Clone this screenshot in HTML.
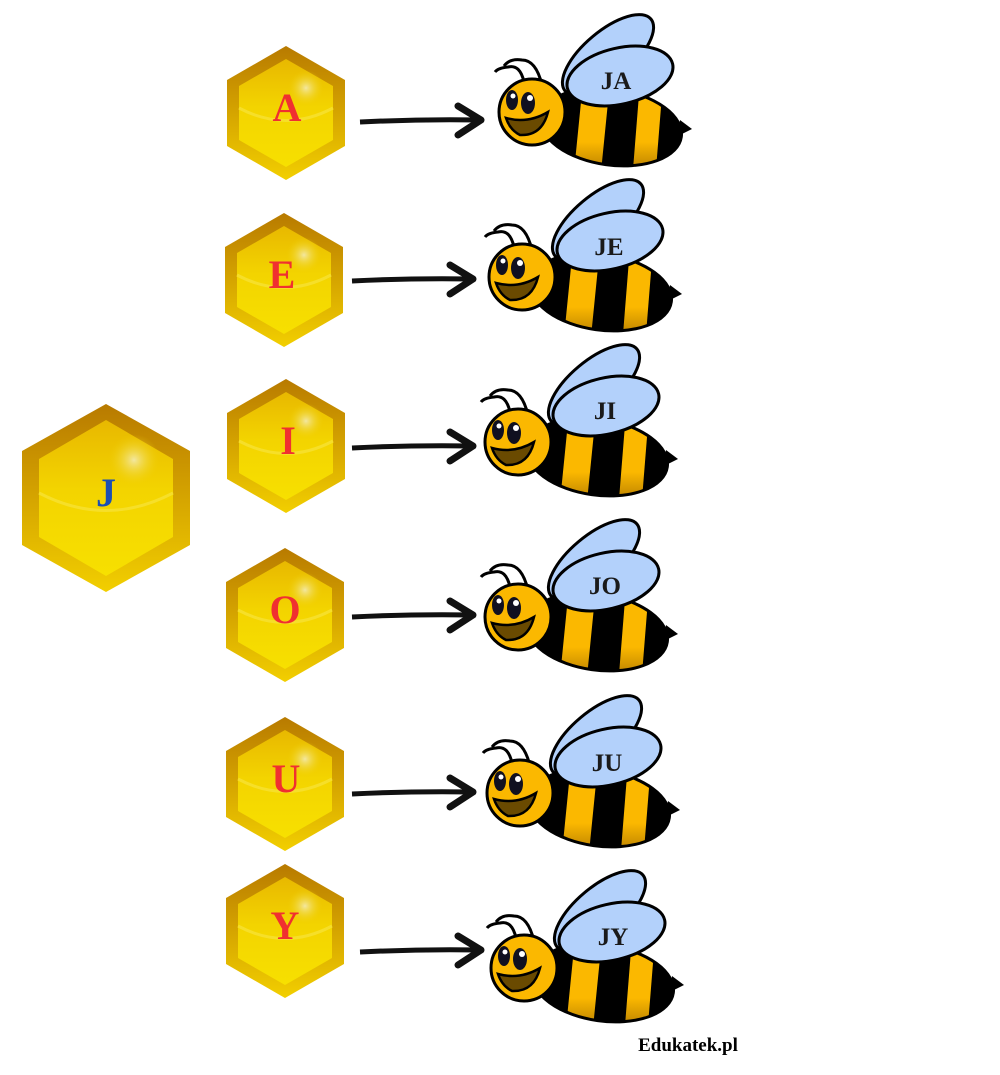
<!DOCTYPE html>
<html><head><meta charset="utf-8"><style>html,body{margin:0;padding:0;background:#fff;width:1000px;height:1075px;overflow:hidden}</style></head>
<body>
<svg width="1000" height="1075" viewBox="0 0 1000 1075" xmlns="http://www.w3.org/2000/svg">
<defs>
<linearGradient id="rim" x1="0" y1="0" x2="0" y2="1"><stop offset="0" stop-color="#b87a00"/><stop offset="1" stop-color="#f2cf00"/></linearGradient>
<linearGradient id="inner" x1="0" y1="0" x2="0" y2="1"><stop offset="0" stop-color="#e8b800"/><stop offset="0.45" stop-color="#f3d400"/><stop offset="1" stop-color="#f7e000"/></linearGradient>
<radialGradient id="shine" cx="0.5" cy="0.5" r="0.5"><stop offset="0" stop-color="#f3e7a0"/><stop offset="1" stop-color="#f0d000" stop-opacity="0"/></radialGradient>
<linearGradient id="bodyg" x1="0" y1="0" x2="0" y2="1"><stop offset="0.6" stop-color="#fbb800"/><stop offset="1" stop-color="#a06a00"/></linearGradient>
<g id="hex">
<polygon points="0,-67 59,-33 59,33 0,67 -59,33 -59,-33" fill="url(#rim)"/>
<polygon points="0,-54 47,-27 47,27 0,54 -47,27 -47,-27" fill="url(#inner)"/>
<path d="M-47,-5 Q0,20 47,-5" fill="none" stroke="#f7e23a" stroke-width="3" opacity="0.7"/>
<circle cx="20" cy="-25" r="18" fill="url(#shine)"/>
</g>
<clipPath id="bc"><ellipse cx="-9" cy="45" rx="71" ry="38" transform="rotate(8 -9 45)"/></clipPath>
<g id="bee">
<ellipse cx="-12" cy="-27" rx="56" ry="24" transform="rotate(-40 -12 -27)" fill="#b3d1fb" stroke="#000" stroke-width="3"/>
<path d="M60,38 L72,47 L58,54 Z" fill="#000"/>
<ellipse cx="-9" cy="45" rx="71" ry="38" transform="rotate(8 -9 45)" fill="#000"/>
<g clip-path="url(#bc)">
<polygon points="-37,0 -10,0 -20,100 -47,100" fill="url(#bodyg)"/>
<polygon points="20,0 43,0 35,100 12,100" fill="url(#bodyg)"/>
</g>
<ellipse cx="-9" cy="45" rx="71" ry="38" transform="rotate(8 -9 45)" fill="none" stroke="#000" stroke-width="3"/>
<ellipse cx="0" cy="-6" rx="54" ry="28" transform="rotate(-13 0 -6)" fill="#b3d1fb" stroke="#000" stroke-width="3"/>
<path d="M-78,3 Q-84,-22 -98,-22 Q-110,-24 -116,-16" fill="none" stroke="#000" stroke-width="3"/>
<path d="M-96,0 Q-100,-18 -112,-15 Q-122,-14 -125,-10" fill="none" stroke="#000" stroke-width="3"/>
<circle cx="-88" cy="30" r="33" fill="#fbb800" stroke="#000" stroke-width="3"/>
<ellipse cx="-108" cy="18" rx="6" ry="10" fill="#101020"/>
<ellipse cx="-92" cy="21" rx="7" ry="11" fill="#101020"/>
<circle cx="-107" cy="14" r="2.5" fill="#fff"/>
<circle cx="-90" cy="16" r="3" fill="#fff"/>
<path d="M-114,36 Q-92,42 -72,30 Q-78,54 -100,53 Q-110,48 -114,36 Z" fill="#6a4a00" stroke="#000" stroke-width="2.5"/>
</g>
<g id="arrow">
<path d="M0,0 Q60,-3 120,-2" fill="none" stroke="#111" stroke-width="5"/>
<path d="M98,-16 L121,-2 L98,13" fill="none" stroke="#111" stroke-width="7" stroke-linejoin="round" stroke-linecap="round"/>
</g>
</defs>

<g transform="translate(106,498)">
<polygon points="0,-94 84,-47 84,47 0,94 -84,47 -84,-47" fill="url(#rim)"/>
<polygon points="0,-78 67,-39 67,39 0,78 -67,39 -67,-39" fill="url(#inner)"/>
<path d="M-67,-5 Q0,30 67,-5" fill="none" stroke="#f7e23a" stroke-width="3" opacity="0.7"/>
<circle cx="28" cy="-38" r="26" fill="url(#shine)"/>
</g>
<text x="106" y="506" text-anchor="middle" font-family="Liberation Serif, serif" font-weight="bold" font-size="40" fill="#1b4fb3">J</text>

<g font-family="Liberation Serif, serif" font-weight="bold" font-size="40" fill="#f03030" text-anchor="middle">
<use href="#hex" x="286" y="113"/><text x="287" y="121">A</text>
<use href="#hex" x="284" y="280"/><text x="282" y="288">E</text>
<use href="#hex" x="286" y="446"/><text x="288" y="454">I</text>
<use href="#hex" x="285" y="615"/><text x="285" y="623">O</text>
<use href="#hex" x="285" y="784"/><text x="286" y="792">U</text>
<use href="#hex" x="285" y="931"/><text x="285" y="939">Y</text>
</g>

<use href="#arrow" x="360" y="122"/>
<use href="#arrow" x="352" y="281"/>
<use href="#arrow" x="352" y="448"/>
<use href="#arrow" x="352" y="617"/>
<use href="#arrow" x="352" y="794"/>
<use href="#arrow" x="360" y="952"/>

<use href="#bee" x="620" y="82"/>
<use href="#bee" x="610" y="247"/>
<use href="#bee" x="606" y="412"/>
<use href="#bee" x="606" y="587"/>
<use href="#bee" x="608" y="763"/>
<use href="#bee" x="612" y="938"/>

<g font-family="Liberation Serif, serif" font-weight="bold" font-size="25" fill="#1a1a1a" text-anchor="middle">
<text x="616" y="89">JA</text>
<text x="609" y="255">JE</text>
<text x="605" y="419">JI</text>
<text x="605" y="594">JO</text>
<text x="607" y="771">JU</text>
<text x="613" y="945">JY</text>
</g>
<text x="688" y="1051" text-anchor="middle" font-family="Liberation Serif, serif" font-weight="bold" font-size="19" fill="#000">Edukatek.pl</text>
</svg>
</body></html>
